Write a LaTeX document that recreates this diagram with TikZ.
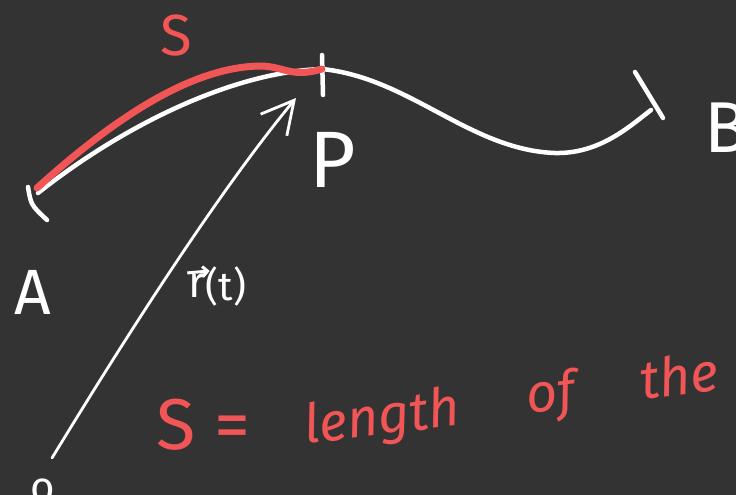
\documentclass[tikz,border=0pt]{standalone}
\usepackage{fontspec}
\setmainfont{Fira Sans}
\usetikzlibrary{arrows.meta, calc}
\definecolor{board}{HTML}{333333}
\definecolor{chalkred}{HTML}{F25555}

\begin{document}
\begin{tikzpicture}[x=1pt, y=-1pt, chalk/.style={draw=white, line width=4.5pt, line cap=round}, arc/.style={draw=chalkred, line width=7pt, line cap=round}, vect/.style={draw=white, line width=2.8pt, line cap=round, -{Straight Barb[length=32pt, width=34pt, line width=2.8pt]}}, wlabel/.style={text=white, inner sep=0pt, font=\fontsize{64}{64}\selectfont}, rlabel/.style={text=chalkred, inner sep=0pt, font=\fontsize{54}{54}\selectfont\itshape}]
\fill[board] (0,0) rectangle (736,495);
\clip (0,0) rectangle (736,495);
\coordinate (A0) at (38,193);
\coordinate (P0) at (322,69);
\coordinate (B0) at (651,110);
\coordinate (O) at (52,458);
\coordinate (Ptip) at (296,98);
% the curve from A to B
\draw[chalk] (A0) .. controls (120,128) and (230,72) .. (P0) .. controls (410,78) and (470,150) .. (555,153) .. controls (600,154) and (630,126) .. (B0);
\draw[chalk] (28,187) .. controls (31,205) .. (47,220);
\draw[chalk] (322,55) -- (323,95);
\draw[chalk] (635,72) -- (663,118);
% arc length s
\draw[arc] (37,188) .. controls (110,122) and (190,66) .. (262,66) .. controls (285,67) and (292,78) .. (P0);
% position vector
\draw[vect] (O) .. controls (130,330) and (220,190) .. (Ptip);
\node[wlabel, font=\fontsize{42}{42}\selectfont] (OLab) at (43,490) {o};
\node[wlabel, font=\fontsize{44}{44}\selectfont] (rSym) at (197,286) {r};
\node[wlabel, anchor=west, font=\fontsize{40}{40}\selectfont] (rArg) at (rSym.east) {(t)};
\draw[white, line width=3pt, -{Straight Barb[length=5pt, width=10pt]}] ($(rSym.north west)+(-1,-1)$) -- ($(rSym.north east)+(4,-3)$);
\node[wlabel] (ALab) at (33,292) {A};
\node[wlabel, font=\fontsize{80}{80}\selectfont] (PLab) at (333,160) {P};
\node[wlabel, font=\fontsize{72}{72}\selectfont] (BLab) at (726,128) {B};
\node[rlabel, font=\fontsize{58}{58}\selectfont] (sLab) at (176,36) {S};
\node[rlabel, anchor=base west, font=\fontsize{72}{72}\selectfont] (sEq) at (156,449) {S =};
\node[rlabel, anchor=base west, rotate=7] (lenWord) at (306,444) {length};
\node[rlabel, anchor=base west, rotate=7] (ofWord) at (528,414) {of};
\node[rlabel, anchor=base west, rotate=7] (theWord) at (642,400) {the};
\end{tikzpicture}
\end{document}
